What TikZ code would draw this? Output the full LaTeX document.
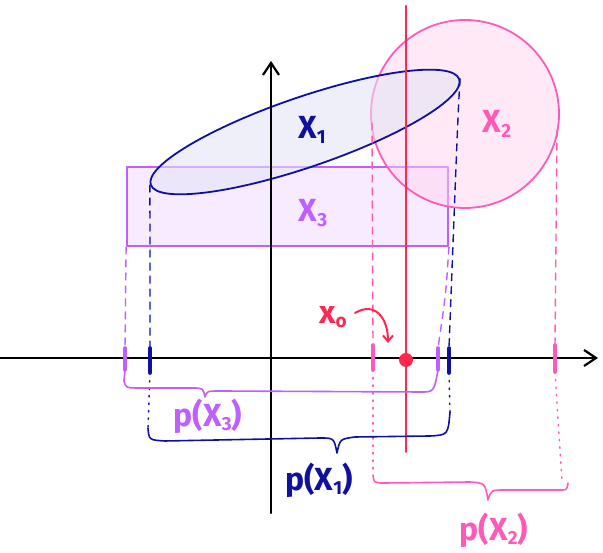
\documentclass[tikz,border=0pt]{standalone}
\usepackage{fontspec}
\setmainfont{Fira Sans}
\usetikzlibrary{arrows.meta,shapes.geometric}
\definecolor{navy}{RGB}{15,15,160}
\definecolor{navyfill}{RGB}{228,228,245}
\definecolor{purp}{RGB}{190,95,255}
\definecolor{purpfill}{RGB}{238,215,255}
\definecolor{pinkc}{RGB}{255,90,185}
\definecolor{pinkfill}{RGB}{255,212,238}
\definecolor{redc}{RGB}{255,40,80}
\newcommand\lowsub[1]{\raisebox{-0.25ex}{\fontsize{19}{19}\selectfont #1}}
\tikzset{
  shapeline/.style={line width=1.8pt},
  proj/.style={line width=1.4pt, dash pattern=on 7pt off 6pt},
  projdot/.style={line width=1.4pt, dash pattern=on 1.5pt off 6pt},
  tickmark/.style={line width=3.5pt},
  bracepath/.style={line width=1.6pt},
  lbl/.style={font=\fontsize{32}{32}\selectfont\bfseries, inner sep=0pt},
  axisline/.style={line width=2.2pt, -{Straight Barb[length=12pt,width=16pt,line width=2.2pt]}},
}
\begin{document}
\begin{tikzpicture}[x=1pt,y=1pt, line cap=round, line join=round]
\useasboundingbox (0,0) rectangle (603,553);

% shapes
\node[draw=purp, shapeline, fill=purpfill, fill opacity=0.5, draw opacity=1, rectangle, inner sep=0pt,
      minimum width=321pt, minimum height=79pt] (X3box) at (287.5,346.5) {};
\node[draw=pinkc, shapeline, fill=pinkfill, fill opacity=0.5, draw opacity=1, circle, inner sep=0pt,
      minimum size=188pt] (X2c) at (465,439) {};
\node[draw=navy, shapeline, fill=navyfill, fill opacity=0.6, draw opacity=1, ellipse, inner sep=0pt,
      minimum width=326pt, minimum height=70pt, rotate=18.9] (X1e) at (305,421) {};

% labels of sets
\node[lbl, text=navy] (lX1) at (312,423) {X\lowsub{1}};
\node[lbl, text=purp] (lX3) at (313,340) {X\lowsub{3}};
\node[lbl, text=pinkc] (lX2) at (497,429) {X\lowsub{2}};

% axes
\coordinate (xa0) at (0,195);
\coordinate (xa1) at (598,195);
\coordinate (ya0) at (271,40);
\coordinate (ya1) at (271,492);
\draw[axisline] (xa0) -- (xa1);
\draw[axisline] (ya0) -- (ya1);

% projections X1 (blue)
\coordinate (b1t) at (150,205);
\coordinate (b1b) at (150,180);
\coordinate (b1e) at (148,125);
\coordinate (b2t) at (449,205);
\coordinate (b2b) at (449,180);
\coordinate (b2e) at (450,141);
\draw[navy, proj] (X1e.west) -- (b1t);
\draw[navy, proj] (X1e.east) .. controls (458,440) .. (b2t);
\draw[navy, tickmark] (b1t) -- (b1b);
\draw[navy, tickmark] (b2t) -- (b2b);
\draw[navy, projdot] (b1b) -- (b1e);
\draw[navy, projdot] (b2b) -- (b2e);

% projections X3 (purple)
\coordinate (p1t) at (125,205);
\coordinate (p1b) at (125,183);
\coordinate (p2t) at (438,205);
\coordinate (p2b) at (438,183);
\draw[purp, proj] (X3box.south west) -- (p1t);
\draw[purp, proj] (X3box.south east) .. controls (446,260) .. (p2t);
\draw[purp, tickmark] (p1t) -- (p1b);
\draw[purp, tickmark] (p2t) -- (p2b);

% projections X2 (pink)
\coordinate (k1s) at (372,430);
\coordinate (k1t) at (373,208);
\coordinate (k1b) at (373,183);
\coordinate (k1e) at (373,78);
\coordinate (k2s) at (557,423);
\coordinate (k2t) at (555,208);
\coordinate (k2b) at (555,181);
\coordinate (k2e) at (562,72);
\draw[pinkc, proj] (k1s) -- (k1t);
\draw[pinkc, proj] (k2s) -- (k2t);
\draw[pinkc, tickmark] (k1t) -- (k1b);
\draw[pinkc, tickmark] (k2t) -- (k2b);
\draw[pinkc, projdot] (k1b) -- (k1e);
\draw[pinkc, projdot] (k2b) -- (k2e);

% red line and point
\coordinate (r0) at (406,101);
\coordinate (r1) at (406,547);
\draw[redc, line width=2pt] (r0) -- (r1);
\node[circle, fill=redc, inner sep=0pt, minimum size=14pt] (x0pt) at (406,193) {};
\node[lbl, text=redc, font=\fontsize{32}{32}\selectfont\bfseries] (lx0) at (333,236) {x\lowsub{o}};
\coordinate (arrs) at (355,240);
\coordinate (arre) at (388,210);
\draw[redc, line width=2pt, -{Straight Barb[length=6pt,width=10pt,line width=2pt]}]
  (arrs) .. controls (375,252) and (388,235) .. (arre);

% brace p(X3)
\draw[purp, bracepath] (p1b) -- (124,172) .. controls (126,165) .. (140,165) -- (192,165)
  .. controls (203,165) .. (205,156) .. controls (207,162) .. (220,162) -- (420,161)
  .. controls (434,161) .. (p2b);
\node[lbl, text=purp] (lp3) at (208,137) {p(X\lowsub{3})};

% brace p(X1)
\draw[navy, bracepath] (b1e) .. controls (149,113) .. (165,112) -- (320,115)
  .. controls (334,115) .. (337,100) .. controls (340,114) .. (355,116) -- (430,117)
  .. controls (448,118) .. (b2e);
\node[lbl, text=navy] (lp1) at (319,73) {p(X\lowsub{1})};

% brace p(X2)
\draw[pinkc, bracepath] (k1e) .. controls (374,70) .. (385,70) -- (470,71)
  .. controls (485,70) .. (488,53) .. controls (491,63) .. (505,63) -- (560,63)
  .. controls (567,63) .. (568,70);
\node[lbl, text=pinkc] (lp2) at (494,23) {p(X\lowsub{2})};
\end{tikzpicture}
\end{document}
